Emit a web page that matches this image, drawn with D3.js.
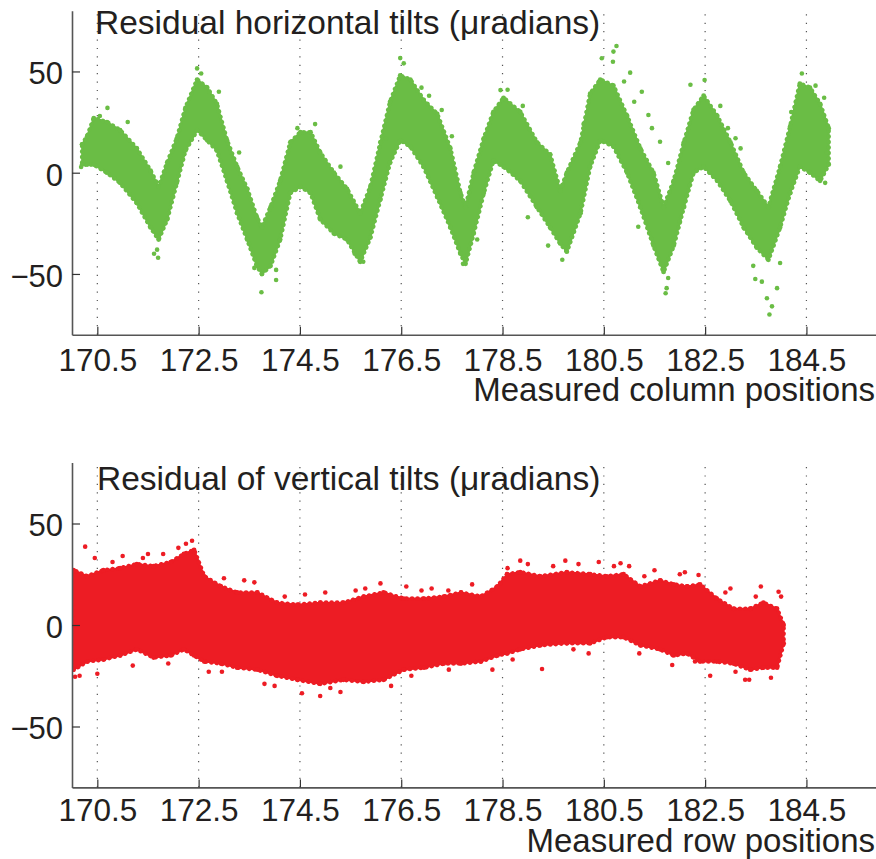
<!DOCTYPE html>
<html>
<head>
<meta charset="utf-8">
<script src="https://cdn.jsdelivr.net/npm/d3@7"></script>
<style>
  html, body { margin: 0; padding: 0; background: #fff; }
  svg { display: block; }
  text { font-family: "Liberation Sans", Arial, Helvetica, sans-serif; fill: #231f20; }
</style>
</head>
<body>
<svg id="chart" width="876" height="859"></svg>
<script>
// ---------- Data ----------
const xTicks = [170.5, 172.5, 174.5, 176.5, 178.5, 180.5, 182.5, 184.5];
const yTicks = [-50, 0, 50];

// Top panel: horizontal tilts — envelope of the dense point cloud
const hPos = [170.20,170.30,170.43,170.69,170.95,171.28,171.55,171.71,171.88,172.07,172.24,172.47,172.67,172.86,173.06,173.26,173.46,173.65,173.75,173.92,174.11,174.31,174.51,174.71,174.90,175.17,175.43,175.69,175.89,176.09,176.28,176.48,176.68,176.94,177.21,177.47,177.67,177.77,177.93,178.13,178.32,178.52,178.85,179.18,179.44,179.64,179.77,180.04,180.23,180.43,180.69,180.96,181.22,181.48,181.68,181.88,182.08,182.27,182.47,182.74,183.00,183.26,183.52,183.75,183.98,184.18,184.37,184.57,184.77,184.94];
const hHi = [14,18,27,25,21,12,1,-7,5,17,32,46,42,34,16,3,-8,-22,-27,-17,-4,15,20,20,10,0,-8,-20,-7,15,35,48,46,36,29,12,-10,-17,0,17,30,37,30,15,9,-9,0,15,39,46,43,28,12,0,-17,-4,15,31,38,28,15,0,-9,-17,3,23,44,42,34,22];
const hLo = [4,4,4,0,-5,-15,-27,-33,-23,-5,11,21,16,11,-4,-20,-33,-46,-50,-46,-33,-10,-7,-10,-23,-30,-33,-44,-32,-13,5,16,13,3,-12,-27,-40,-45,-30,-10,6,3,-4,-17,-27,-35,-39,-20,3,16,13,0,-17,-36,-49,-36,-17,0,3,-4,-14,-27,-37,-43,-27,-10,3,0,-4,4];
const hOutX = [170.18,170.70,172.47,171.68,171.70,173.74,174.03,174.03,176.48,177.30,180.75,180.69,180.68,180.46,181.02,181.25,181.38,181.61,181.77,182.49,182.21,184.41,184.85,184.87,181.72,181.74,181.77,183.49,183.62,183.77,183.82,183.72,183.92,183.45,183.98,181.18,178.46,178.60,172.90,176.90,177.05,180.90,181.10,181.45,182.95,183.20,184.68,184.90,175.58,175.75,171.62,177.72,179.68,172.55,176.55,174.45,170.55,171.10,173.60,174.80,175.30,176.20,177.50,178.00,179.40,180.10,182.00,183.10,184.20,173.30,178.90,179.00,182.80];
const hOutY = [2.8,32,51.5,-38,-42,-59,-53,-48,56.6,31,62.6,59.8,54.8,56.5,49.4,40,28.5,15.3,4.8,45.8,43.4,49,37,-5,-59.5,-57,-52,-52.5,-53.8,-70,-66,-62,-57,-46,-44.6,-26.7,40.8,41,40,42,38,45,35,22,22,12,43,10,-40,-44,-40,-45,-43,49,54,22,28,25,-47,24,3,17,18,-33,-36,24,-24,17,30,10,33,-22,33];

// Bottom panel: vertical tilts — envelope of the dense point cloud
const vPos = [170.00,170.03,170.30,170.62,170.95,171.28,171.61,171.95,172.21,172.41,172.61,172.94,173.26,173.66,174.05,174.45,174.90,175.36,175.76,176.15,176.55,176.95,177.34,177.68,178.07,178.40,178.59,178.85,179.25,179.77,180.23,180.56,180.89,181.22,181.61,181.88,182.14,182.40,182.73,183.06,183.39,183.65,183.92,184.05];
const vHi = [26,27,24,27,28,30,29,31,35,37,24,19,16,16,11,10,11,11,14,16,13,13,14,16,14,19,25,26,24,26,25,24,25,19,22,20,19,20,13,8,8,11,8,0];
const vLo = [-22,-22,-18,-17,-15,-12,-16,-15,-12,-15,-18,-19,-21,-22,-25,-27,-29,-27,-28,-27,-22,-21,-19,-19,-18,-15,-14,-12,-10,-9,-9,-6,-6,-10,-12,-15,-14,-18,-18,-19,-22,-21,-21,-9];
const vOutX = [170.26,172.37,174.90,174.54,172.96,170.06,176.09,175.79,177.43,178.85,179.74,180.83,182.37,183.95,183.29,183.37,181.85,179.28,177.44,170.45,171.00,171.50,172.10,172.25,174.20,175.00,176.60,179.00,180.40,181.50,182.10,183.00,183.60,173.80,175.30,176.30,171.20,170.50,182.60,183.80,180.20,178.30,173.40,177.90,181.00,184.00,170.80,171.40,171.80,173.00,173.60,174.60,175.60,176.90,177.10,178.60,179.50,180.00,180.70,181.30,182.00,182.90,183.50,170.15,171.90,172.70,174.00,175.10,176.70,178.70,179.90,181.20,182.30,183.10];
const vOutY = [38.6,41.5,-35,-33.6,-23,-25.5,20.5,18,17,31.7,31.7,30.4,24.6,16.4,-27,-27,-19.7,-21.7,-22,33,34,35,38,40,14,16,19,30,31,27,26,18,19,-29,-33,-30,-20,-24,-25,-26,-14,-22,22,20,29,14,31,33,35,23,21,15,17,17,18,28,29,30,29,24,25,16,14,-25,-19,-23,-30,-31,-25,-17,-12,-14,-18,-23];

// ---------- Layout ----------
const svg = d3.select("#chart");
const xScale = d3.scaleLinear().domain([170, 186]).range([72, 882.4]);

const panels = [
  { title: "Residual horizontal tilts (\u03bcradians)", xlabel: "Measured column positions",
    pos: hPos, hi: hHi, lo: hLo, ox: hOutX, oy: hOutY, color: "#6abd45",
    yRange: [334.7, 10.7], titleX: 95, titleY: 34, tickLabelY: 36, labelY: 401 },
  { title: "Residual of vertical tilts (\u03bcradians)", xlabel: "Measured row positions",
    pos: vPos, hi: vHi, lo: vLo, ox: vOutX, oy: vOutY, color: "#ed1c24",
    yRange: [787.4, 462.6], titleX: 97, titleY: 490, tickLabelY: 34, labelY: 852 }
];

panels.forEach((p, i) => {
  const y = d3.scaleLinear().domain([-80, 80]).range(p.yRange);
  const g = svg.append("g");
  const clipId = "clip" + i;
  svg.append("clipPath").attr("id", clipId).append("rect")
    .attr("x", 72).attr("y", p.yRange[1]).attr("width", 820).attr("height", p.yRange[0] - p.yRange[1]);

  // dotted grid
  g.append("g").selectAll("line").data(xTicks).join("line")
    .attr("x1", d => xScale(d)).attr("x2", d => xScale(d))
    .attr("y1", p.yRange[0]).attr("y2", p.yRange[1])
    .attr("stroke", "#555").attr("stroke-width", 1.2).attr("stroke-dasharray", "1.2,7.2");

  // data cloud
  const data = p.pos.map((x, k) => ({ x, hi: p.hi[k], lo: p.lo[k] }));
  const area = d3.area().x(d => xScale(d.x)).y0(d => y(d.lo)).y1(d => y(d.hi));
  const dg = g.append("g").attr("clip-path", `url(#${clipId})`);
  dg.append("path").datum(data).attr("d", area)
    .attr("fill", p.color).attr("stroke", p.color).attr("stroke-width", 2).attr("stroke-linejoin", "round");
  // dotted fringe along the cloud edge
  dg.append("path").datum(data).attr("d", area)
    .attr("fill", "none").attr("stroke", p.color).attr("stroke-width", 4.6)
    .attr("stroke-linecap", "round").attr("stroke-dasharray", "0.01,5.5");
  const edge = data.flatMap(d => [{ x: d.x, v: d.hi }, { x: d.x, v: d.lo }]);
  dg.selectAll("circle.e").data(edge).join("circle").attr("class", "e")
    .attr("cx", d => xScale(d.x)).attr("cy", d => y(d.v)).attr("r", 2.4).attr("fill", p.color);
  const outs = p.ox.map((x, k) => ({ x, v: p.oy[k] }));
  dg.selectAll("circle.o").data(outs).join("circle").attr("class", "o")
    .attr("cx", d => xScale(d.x)).attr("cy", d => y(d.v)).attr("r", 2.3).attr("fill", p.color);

  // axes
  const xa = g.append("g").attr("transform", `translate(0,${p.yRange[0]})`)
    .call(d3.axisBottom(xScale).tickValues(xTicks).tickSize(-8).tickSizeOuter(0).tickFormat(d3.format(".1f")));
  xa.select(".domain").attr("stroke", "#555").attr("stroke-width", 1.6);
  xa.selectAll(".tick line").attr("stroke", "#333").attr("stroke-width", 1.2);
  xa.selectAll(".tick text").attr("y", p.tickLabelY).attr("dy", null)
    .style("font-size", "31.5px").attr("fill", "#231f20");

  const ya = g.append("g").attr("transform", "translate(72,0)")
    .call(d3.axisLeft(y).tickValues(yTicks).tickSize(-8).tickSizeOuter(0).tickFormat(d => d < 0 ? "\u2212" + Math.abs(d) : d));
  ya.select(".domain").attr("stroke", "#555").attr("stroke-width", 1.6);
  ya.selectAll(".tick line").attr("stroke", "#333").attr("stroke-width", 1.2);
  ya.selectAll(".tick text").attr("x", -9).attr("dy", "0.4em")
    .style("font-size", "31px").attr("fill", "#231f20");

  // title and axis label
  g.append("text").attr("x", p.titleX).attr("y", p.titleY)
    .style("font-size", "33.5px").text(p.title);
  g.append("text").attr("x", 875).attr("y", p.labelY).attr("text-anchor", "end")
    .style("font-size", "33px").text(p.xlabel);
});
</script>
</body>
</html>
